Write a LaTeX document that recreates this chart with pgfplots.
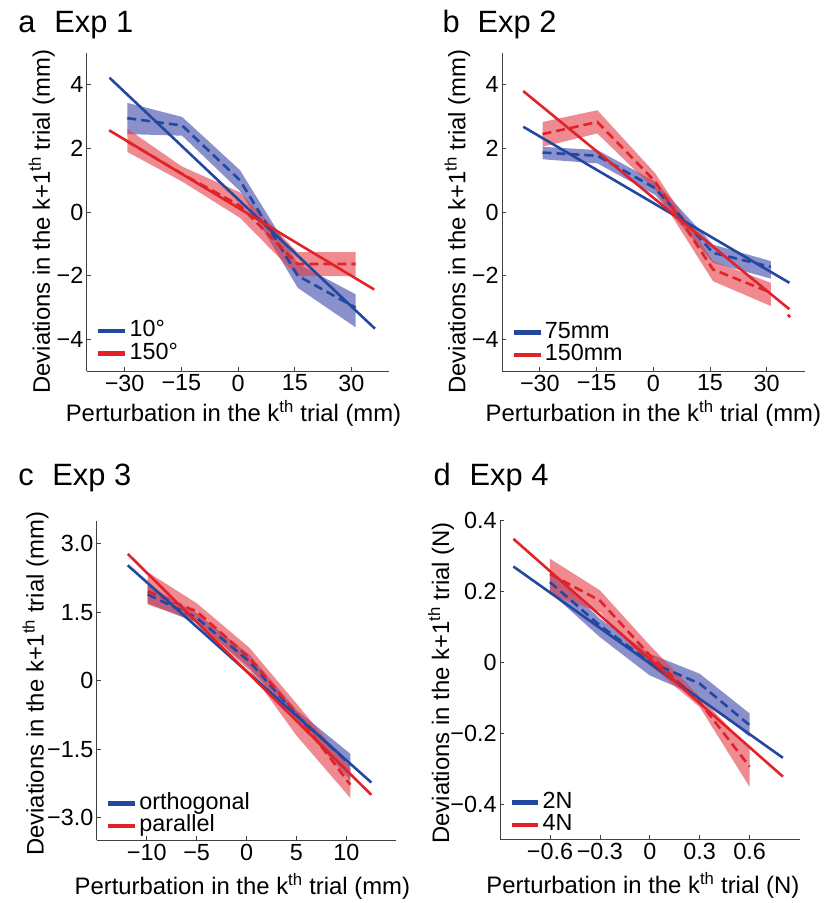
\documentclass[border=0pt]{standalone}
\usepackage{fontspec}
\setmainfont{Liberation Sans}
\usepackage{pgfplots}
\pgfplotsset{compat=1.18}

\definecolor{cblue}{RGB}{35,72,160}
\definecolor{cred}{RGB}{225,35,40}
\definecolor{fblue}{RGB}{60,70,170}
\definecolor{fred}{RGB}{228,60,70}

\pgfplotsset{
  panel/.style={
    scale only axis,
    axis lines=left,
    axis line style={-, black!75, line width=0.8bp},
    tick align=inside,
    major tick length=4bp,
    tick style={black!75, line width=0.8bp},
    tick label style={font=\fontsize{23.5}{23.5}\selectfont},
    label style={font=\fontsize{24}{24}\selectfont},
    legend style={draw=none, fill=none, font=\fontsize{23.5}{23.5}\selectfont,
      anchor=south west, row sep=0bp, inner sep=0pt,
      nodes={inner xsep=2bp, inner ysep=0bp, text height=17bp, text depth=5.5bp}},
    legend cell align=left,
    legend image code/.code={\draw[line width=4.5bp] (0bp,0bp) -- (27bp,0bp);},
    clip=false,
  },
  fit/.style={line width=2.6bp},
  mean/.style={line width=2.6bp, dash pattern=on 9bp off 5bp},
  bandb/.style={fill=fblue, fill opacity=0.6, draw=none, forget plot},
  bandr/.style={fill=fred, fill opacity=0.6, draw=none, forget plot},
}

\begin{document}
\begin{tikzpicture}
\path (0,0) rectangle (830bp,903bp);

\node[anchor=base west, font=\fontsize{31}{31}\selectfont] at (15bp,870bp) {a};
\node[anchor=base west, font=\fontsize{31}{31}\selectfont] at (51bp,870bp) {Exp 1};
\node[anchor=base west, font=\fontsize{31}{31}\selectfont] at (440bp,870bp) {b};
\node[anchor=base west, font=\fontsize{31}{31}\selectfont] at (475bp,870bp) {Exp 2};
\node[anchor=base west, font=\fontsize{31}{31}\selectfont] at (15bp,417bp) {c};
\node[anchor=base west, font=\fontsize{31}{31}\selectfont] at (49bp,417bp) {Exp 3};
\node[anchor=base west, font=\fontsize{31}{31}\selectfont] at (431bp,417bp) {d};
\node[anchor=base west, font=\fontsize{31}{31}\selectfont] at (467bp,417bp) {Exp 4};

% ---- a ----
\begin{axis}[panel, at={(87bp,531bp)}, anchor=south west,
  width=303bp, height=319bp,
  xmin=-40, xmax=40, ymin=-5, ymax=5,
  xtick={-30,-15,0,15,30}, xticklabels={−30,−15,0,15,30},
  ytick={-4,-2,0,2,4}, yticklabels={−4,−2,0,2,4},
  xlabel={Perturbation in the k\textsuperscript{th} trial (mm)},
  ylabel={Deviations in the k+1\textsuperscript{th} trial (mm)},
  xlabel style={at={(axis description cs:0.485,-0.159)}, anchor=base},
  ylabel style={at={(axis description cs:-0.122,0.47)}, anchor=base},
  legend style={at={(axis description cs:0.03,0.02)}},
  ]
  % bands: upper edge left to right, then lower edge right to left
  \addplot[bandb] coordinates {(-29.3,3.43) (-14.8,2.99) (0.5,1.32) (15.8,-1.62) (31.1,-2.58)
    (31.1,-3.62) (15.8,-2.38) (0.5,0.66) (-14.8,2.40) (-29.3,2.45)} -- cycle;
  \addplot[bandr] coordinates {(-29.3,2.62) (-14.8,1.43) (0.5,0.62) (15.7,-1.26) (31.1,-1.26)
    (31.1,-2.01) (15.7,-2.01) (0.5,-0.18) (-14.8,0.96) (-29.3,1.89)} -- cycle;
  \addplot[cblue, mean, forget plot] coordinates {(-29.3,2.95) (-14.8,2.72) (0.5,1.00) (15.8,-2.00) (31.1,-3.00)};
  \addplot[cred, mean, forget plot] coordinates {(-29.3,2.22) (-14.8,1.20) (0.5,0.20) (15.7,-1.63) (31.1,-1.63)};
  \addplot[cblue, fit] coordinates {(-34,4.22) (36.2,-3.66)};
  \addlegendentry{10°}
  \addplot[cred, fit] coordinates {(-34.1,2.57) (36,-2.43)};
  \addlegendentry{150°}
\end{axis}

% ---- b ----
\begin{axis}[panel, at={(503bp,531bp)}, anchor=south west,
  width=303bp, height=319bp,
  xmin=-40, xmax=40, ymin=-5, ymax=5,
  xtick={-30,-15,0,15,30}, xticklabels={−30,−15,0,15,30},
  ytick={-4,-2,0,2,4}, yticklabels={−4,−2,0,2,4},
  xlabel={Perturbation in the k\textsuperscript{th} trial (mm)},
  ylabel={Deviations in the k+1\textsuperscript{th} trial (mm)},
  xlabel style={at={(axis description cs:0.5,-0.159)}, anchor=base},
  ylabel style={at={(axis description cs:-0.121,0.47)}, anchor=base},
  legend style={at={(axis description cs:0.03,0.015)}},
  ]
  \addplot[bandb] coordinates {(-29.3,2.05) (-14.8,1.95) (0.5,0.96) (15.8,-1.02) (31.1,-1.54)
    (31.1,-2.09) (15.8,-1.59) (0.5,0.54) (-14.8,1.53) (-29.3,1.66)} -- cycle;
  \addplot[bandr] coordinates {(-29.3,2.83) (-14.8,3.20) (0.5,1.22) (15.8,-1.54) (31.1,-2.22)
    (31.1,-2.95) (15.8,-2.17) (0.5,0.70) (-14.8,2.47) (-29.3,2.05)} -- cycle;
  \addplot[cblue, mean, forget plot] coordinates {(-29.3,1.87) (-14.8,1.77) (0.5,0.75) (15.8,-1.28) (31.1,-1.72)};
  \addplot[cred, mean, forget plot] coordinates {(-29.3,2.45) (-14.8,2.83) (0.5,0.96) (15.8,-1.80) (31.1,-2.53)};
  \addplot[cblue, fit] coordinates {(-34.4,2.68) (36,-2.22)};
  \addlegendentry{75mm}
  \addplot[cred, fit] coordinates {(-34.4,3.80) (36,-3.05)};
  \addlegendentry{150mm}
  \addplot[cred, fit, forget plot] coordinates {(35.6,-3.22) (36.2,-3.30)};
\end{axis}

% ---- c ----
\begin{axis}[panel, at={(97bp,61bp)}, anchor=south west,
  width=300bp, height=320bp,
  xmin=-15, xmax=15, ymin=-3.5, ymax=3.5,
  xtick={-10,-5,0,5,10}, xticklabels={−10,−5,0,5,10},
  ytick={-3,-1.5,0,1.5,3}, yticklabels={−3.0,−1.5,0,1.5,3.0},
  xlabel={Perturbation in the k\textsuperscript{th} trial (mm)},
  ylabel={Deviations in the k+1\textsuperscript{th} trial (mm)},
  xlabel style={at={(axis description cs:0.486,-0.170)}, anchor=base},
  ylabel style={at={(axis description cs:-0.178,0.49)}, anchor=base},
  legend style={at={(axis description cs:0.03,0.01)}},
  ]
  \addplot[bandb] coordinates {(-9.9,2.10) (-5,1.48) (0.3,0.57) (5,-0.64) (10.4,-1.60)
    (10.4,-2.18) (5,-0.86) (0.3,0.28) (-5,1.27) (-9.9,1.70)} -- cycle;
  \addplot[bandr] coordinates {(-9.9,2.38) (-5,1.70) (0.3,0.72) (5,-0.50) (10.4,-1.92)
    (10.4,-2.57) (5,-1.20) (0.3,0.22) (-5,1.30) (-9.9,1.67)} -- cycle;
  \addplot[cblue, mean, forget plot] coordinates {(-9.9,1.89) (-5,1.38) (0.3,0.42) (5,-0.75) (10.4,-1.84)};
  \addplot[cred, mean, forget plot] coordinates {(-9.9,1.96) (-5,1.52) (0.3,0.50) (5,-0.72) (10.4,-2.28)};
  \addplot[cblue, fit] coordinates {(-11.9,2.53) (12.5,-2.23)};
  \addlegendentry{orthogonal}
  \addplot[cred, fit] coordinates {(-11.9,2.78) (12.5,-2.50)};
  \addlegendentry{parallel}
\end{axis}

% ---- d ----
\begin{axis}[panel, at={(501bp,62bp)}, anchor=south west,
  width=300bp, height=320bp,
  xmin=-0.9, xmax=0.9, ymin=-0.5, ymax=0.4,
  xtick={-0.6,-0.3,0,0.3,0.6}, xticklabels={−0.6,−0.3,0,0.3,0.6},
  ytick={-0.4,-0.2,0,0.2,0.4}, yticklabels={−0.4,−0.2,0,0.2,0.4},
  xlabel={Perturbation in the k\textsuperscript{th} trial (N)},
  ylabel={Deviations in the k+1\textsuperscript{th} trial (N)},
  xlabel style={at={(axis description cs:0.477,-0.169)}, anchor=base},
  ylabel style={at={(axis description cs:-0.17,0.49)}, anchor=base},
  legend style={at={(axis description cs:0.03,0.01)}},
  ]
  \addplot[bandb] coordinates {(-0.6,0.258) (-0.3,0.122) (0,0.023) (0.3,-0.033) (0.6,-0.145)
    (0.6,-0.211) (0.3,-0.098) (0,-0.038) (-0.3,0.070) (-0.6,0.197)} -- cycle;
  \addplot[bandr] coordinates {(-0.6,0.291) (-0.3,0.202) (0,0.047) (0.3,-0.098) (0.6,-0.244)
    (0.6,-0.352) (0.3,-0.127) (0,-0.009) (-0.3,0.141) (-0.6,0.190)} -- cycle;
  \addplot[cblue, mean, forget plot] coordinates {(-0.6,0.225) (-0.3,0.103) (0,0.000) (0.3,-0.061) (0.6,-0.178)};
  \addplot[cred, mean, forget plot] coordinates {(-0.6,0.248) (-0.3,0.173) (0,0.019) (0.3,-0.113) (0.6,-0.295)};
  \addplot[cblue, fit] coordinates {(-0.82,0.269) (0.80,-0.27)};
  \addlegendentry{2N}
  \addplot[cred, fit] coordinates {(-0.82,0.347) (0.80,-0.323)};
  \addlegendentry{4N}
\end{axis}
\end{tikzpicture}
\end{document}
